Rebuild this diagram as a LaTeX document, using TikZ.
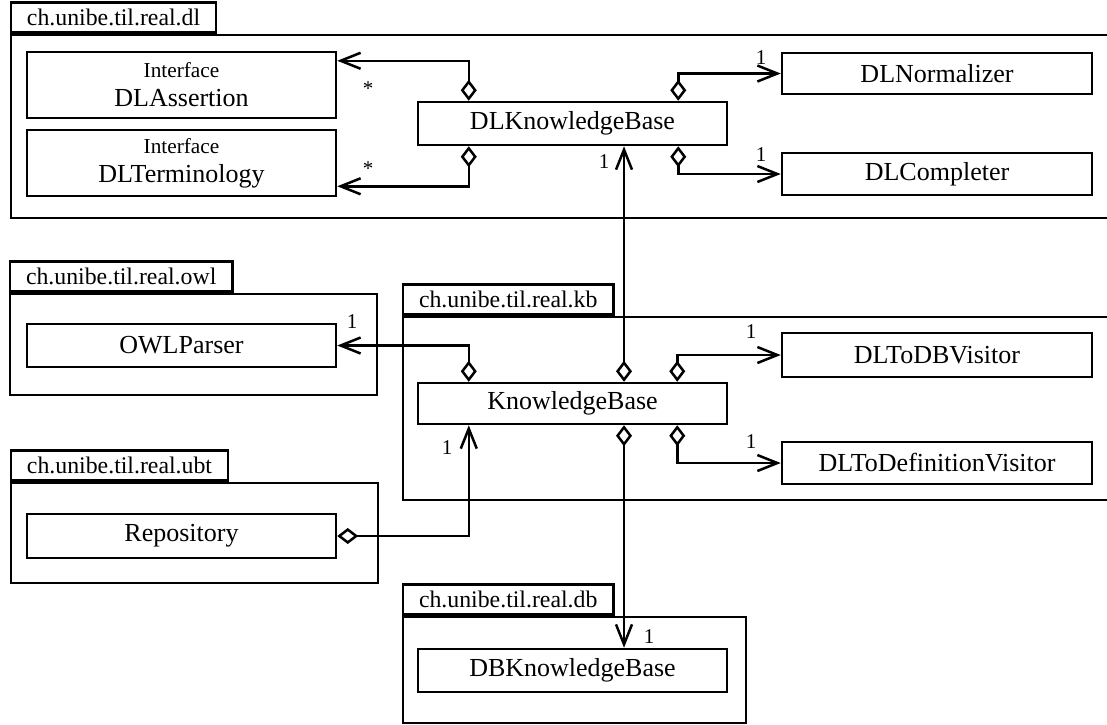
\documentclass[tikz,border=0pt]{standalone}
\usepackage{fontspec}
\setmainfont{Liberation Serif}
\usetikzlibrary{arrows.meta,positioning,calc}

\tikzset{
  pkgbody/.style={draw,line width=2.5pt,inner sep=0pt},
  pkgtab/.style={draw,line width=2.5pt,anchor=south west,inner xsep=16pt,
                 inner ysep=0pt,minimum height=30pt,
                 font=\fontsize{23.8}{26}\selectfont},
  classbox/.style={draw,line width=2.5pt,minimum width=309pt,
                   minimum height=43pt,inner sep=0pt,
                   font=\fontsize{26}{29}\selectfont},
  ifacebox/.style={classbox,minimum height=66pt,align=center},
  mult/.style={inner sep=0pt,font=\fontsize{21}{23}\selectfont},
  assoc/.style={line width=2.5pt,
                {Diamond[open,length=21pt,width=16pt]}-{Straight Barb[length=20pt,width=16pt]}},
}

\begin{document}
\begin{tikzpicture}[x=1pt,y=-1pt]
  \useasboundingbox[fill=white] (0,0) rectangle (1107,724);
  % Packages
  \node[pkgbody,minimum width=1099pt,minimum height=183pt] (pkgdl) at (560.5,126.5) {};
  \node[pkgtab] (tabdl) at (pkgdl.north west) {ch.unibe.til.real.dl};
  \node[pkgbody,minimum width=367pt,minimum height=101pt] (pkgowl) at (193.5,344.5) {};
  \node[pkgtab] (tabowl) at (pkgowl.north west) {ch.unibe.til.real.owl};
  \node[pkgbody,minimum width=367pt,minimum height=100pt] (pkgubt) at (194.5,533) {};
  \node[pkgtab] (tabubt) at (pkgubt.north west) {ch.unibe.til.real.ubt};
  \node[pkgbody,minimum width=707pt,minimum height=183pt] (pkgkb) at (756.5,408.5) {};
  \node[pkgtab] (tabkb) at (pkgkb.north west) {ch.unibe.til.real.kb};
  \node[pkgbody,minimum width=343pt,minimum height=106pt] (pkgdb) at (574.5,670) {};
  \node[pkgtab] (tabdb) at (pkgdb.north west) {ch.unibe.til.real.db};
  % Classes
  \node[ifacebox] (dlassert) at (181.5,85)
       {{\fontsize{21.3}{23}\selectfont Interface}\\DLAssertion};
  \node[ifacebox] (dlterm) at (181.5,163)
       {{\fontsize{21.3}{23}\selectfont Interface}\\DLTerminology};
  \node[classbox] (dlkb) at (572.5,123.5) {DLKnowledgeBase};
  \node[classbox,minimum width=310pt,minimum height=41pt] (dlnorm) at (937,73.5) {DLNormalizer};
  \node[classbox,minimum width=310pt,minimum height=42pt] (dlcompl) at (937,174) {DLCompleter};
  \node[classbox] (owlparser) at (181.5,345.5) {OWLParser};
  \node[classbox,minimum height=41pt] (kb) at (572.5,403.5) {KnowledgeBase};
  \node[classbox,minimum width=310pt,minimum height=44pt] (dltodb) at (937,355) {DLToDBVisitor};
  \node[classbox,minimum width=310pt,minimum height=42pt] (dltodef) at (937,463) {DLToDefinitionVisitor};
  \node[classbox,minimum height=44pt] (repo) at (181.5,536) {Repository};
  \node[classbox] (dbkb) at (572.5,670.5) {DBKnowledgeBase};
  % Associations of DLKnowledgeBase
  \draw[assoc] ($(dlkb.north west)+(52,0)$) |- ($(dlassert.north east)+(0,10)$);
  \draw[assoc] ($(dlkb.south west)+(52,0)$) |- ($(dlterm.south east)+(0,-11)$);
  \draw[assoc] ($(dlkb.north east)+(-50,0)$) |- (dlnorm.west);
  \draw[assoc] ($(dlkb.south east)+(-50,0)$) |- (dlcompl.west);
  \node[mult] (m1) at (368,89) {*};
  \node[mult] (m2) at (368,169) {*};
  \node[mult] (m3) at (761,58) {1};
  \node[mult] (m4) at (761,155) {1};
  % Associations of KnowledgeBase
  \draw[assoc] ($(kb.north)+(51.5,0)$) -- ($(dlkb.south)+(51.5,0)$);
  \draw[assoc] ($(kb.north west)+(52,0)$) |- (owlparser.east);
  \draw[assoc] ($(kb.north east)+(-51,0)$) |- (dltodb.west);
  \draw[assoc] ($(kb.south east)+(-51,0)$) |- (dltodef.west);
  \draw[assoc] ($(kb.south)+(51.5,0)$) -- ($(dbkb.north)+(51.5,0)$);
  \draw[assoc] (repo.east) -| ($(kb.south west)+(52,0)$);
  \node[mult] (m5) at (604,162) {1};
  \node[mult] (m6) at (352,322) {1};
  \node[mult] (m7) at (751,332) {1};
  \node[mult] (m8) at (751,442) {1};
  \node[mult] (m9) at (649,637) {1};
  \node[mult] (m10) at (447,448) {1};
\end{tikzpicture}
\end{document}
